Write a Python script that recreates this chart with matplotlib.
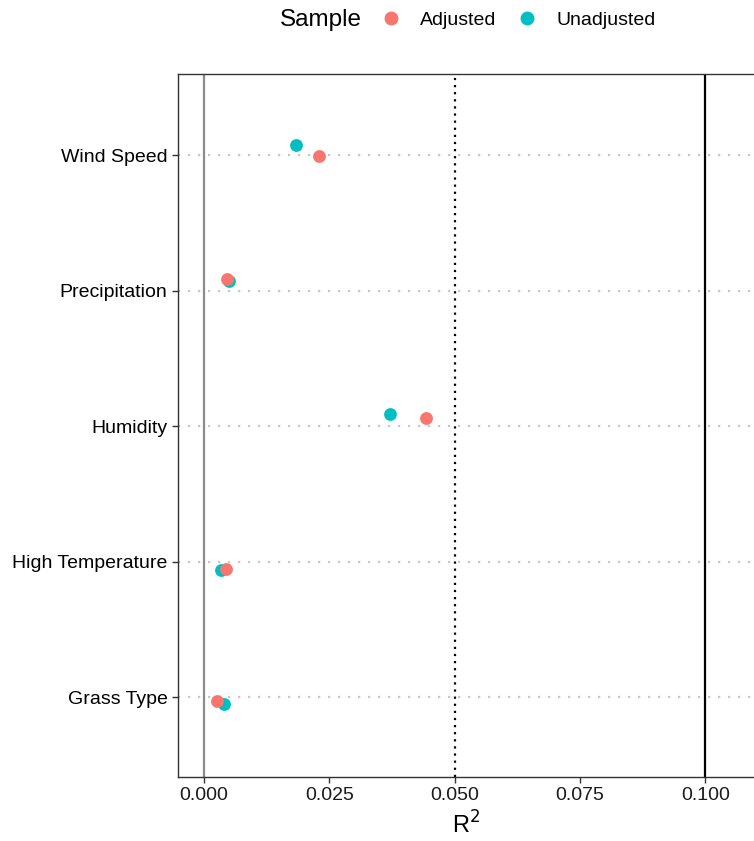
import matplotlib.pyplot as plt
import numpy as np
from matplotlib.lines import Line2D

plt.rcParams['font.family'] = ['Liberation Sans', 'DejaVu Sans']

categories = ['Grass Type', 'High Temperature', 'Humidity', 'Precipitation', 'Wind Speed']
adjusted = [0.00265, 0.00433, 0.0443, 0.00453, 0.0229]
unadjusted = [0.00405, 0.00333, 0.03715, 0.0050, 0.01835]
# vertical jitter
adjusted_jitter = [-0.027, -0.052, 0.064, 0.086, -0.005]
unadjusted_jitter = [-0.054, -0.059, 0.089, 0.074, 0.074]

col_adj = '#F8766D'
col_unadj = '#00BFC4'

fig = plt.figure(figsize=(7.54, 8.41), dpi=100)
ax = fig.add_axes([178 / 754, 64 / 841, 1 - 178 / 754, (777 - 74) / 841])

ypos = np.arange(1, len(categories) + 1)
for y in ypos:
    ax.axhline(y, color='#c8c8c8', lw=1.6, ls=(0, (1, 3.5)), zorder=0)

ax.axvline(0.0, color='#8c8c8c', lw=1.6, zorder=1)
ax.axvline(0.05, color='black', lw=1.6, ls=(0, (1, 2.2)), zorder=1)
ax.axvline(0.1, color='black', lw=1.6, zorder=1)

ax.scatter(unadjusted, ypos + np.array(unadjusted_jitter), s=85, color=col_unadj, lw=0, zorder=3)
ax.scatter(adjusted, ypos + np.array(adjusted_jitter), s=85, color=col_adj, lw=0, zorder=4)

ax.set_xlim(-0.00518, 0.1097)
ax.set_ylim(0.41, 5.6)
ax.set_yticks(ypos)
ax.set_yticklabels(categories, fontsize=14, color='black')
ax.set_xticks([0, 0.025, 0.05, 0.075, 0.1])
ax.set_xticklabels(['0.000', '0.025', '0.050', '0.075', '0.100'], fontsize=14, color='#1a1a1a')
ax.tick_params(length=4.5, width=1, color='#333333', pad=3)
ax.set_xlabel('R$^2$', fontsize=17, labelpad=5)
for s in ['left', 'top', 'bottom']:
    ax.spines[s].set_color('#333333')
    ax.spines[s].set_linewidth(1)
ax.spines['right'].set_visible(False)

fig.text(280 / 754, 1 - 20 / 841, 'Sample', fontsize=17.5, va='center', ha='left')
handles = [Line2D([], [], marker='o', ls='', color=col_adj, markersize=9),
           Line2D([], [], marker='o', ls='', color=col_unadj, markersize=9)]
fig.legend(handles, ['Adjusted', 'Unadjusted'], ncol=2, frameon=False, fontsize=14,
           loc='center left', bbox_to_anchor=(362 / 754, 1 - 20 / 841),
           handletextpad=0.9, columnspacing=0.95, handlelength=1.2)

fig.savefig('out.png', dpi=100)
